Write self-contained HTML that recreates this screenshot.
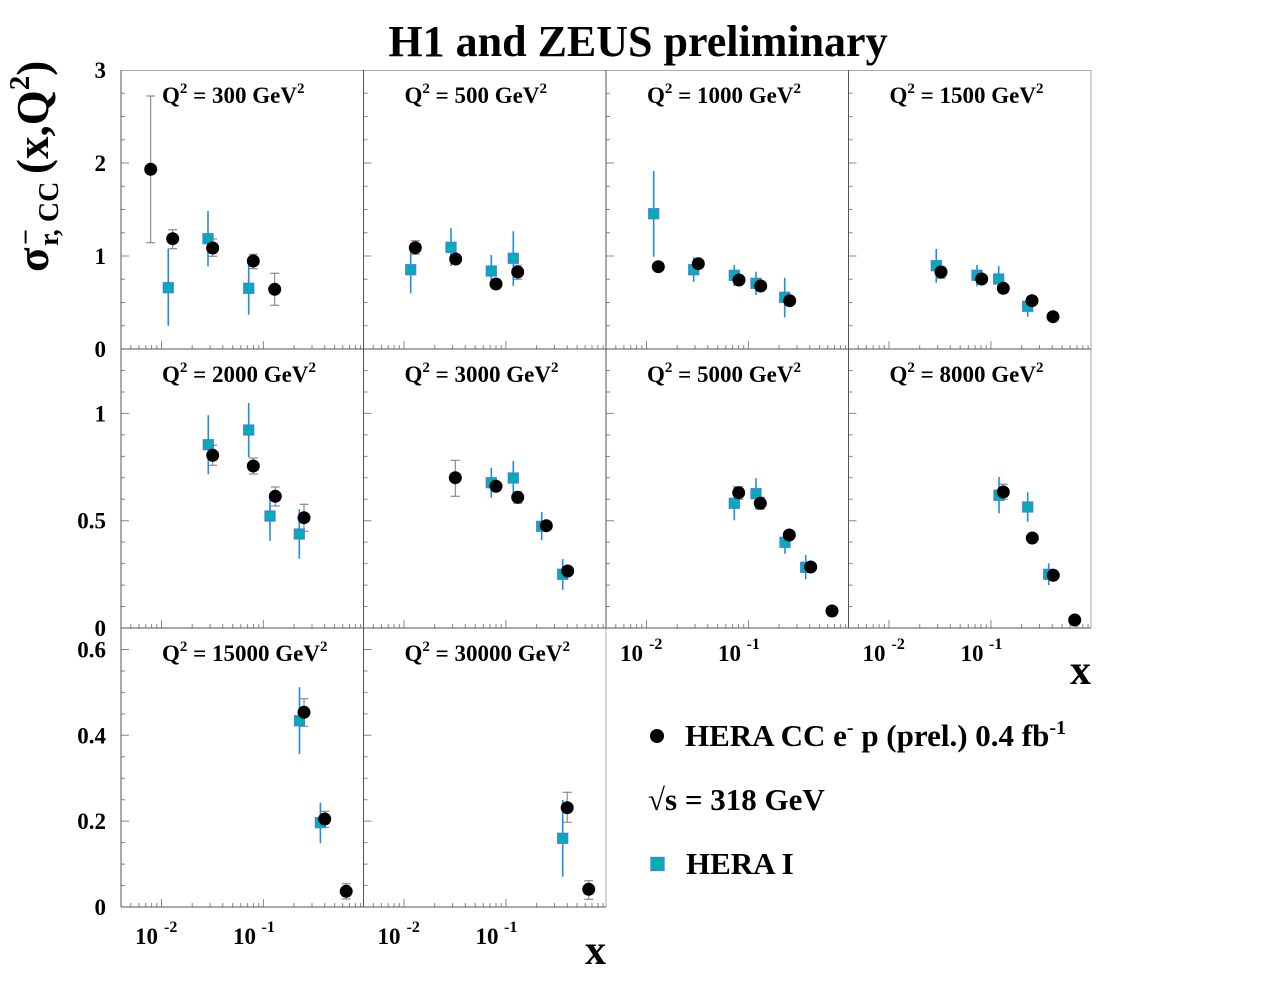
<!DOCTYPE html>
<html><head><meta charset="utf-8"><style>
html,body{margin:0;padding:0;background:#fff;}
svg{display:block;}
text{font-family:"Liberation Serif","DejaVu Serif",serif;font-weight:bold;fill:#000;}
</style></head><body>
<svg width="1276" height="992" viewBox="0 0 1276 992" xmlns="http://www.w3.org/2000/svg">
<rect width="1276" height="992" fill="#fff"/>
<defs>
<path id="xt" fill="none" stroke="#888" stroke-width="1" d="M40.5 0v-8M142.4 0v-8M9.8 0v-4M17.9 0v-4M24.7 0v-4M30.6 0v-4M35.8 0v-4M71.2 0v-4M89.1 0v-4M101.8 0v-4M111.7 0v-4M119.8 0v-4M126.6 0v-4M132.5 0v-4M137.7 0v-4M173.1 0v-4M191 0v-4M203.7 0v-4M213.6 0v-4M221.7 0v-4M228.5 0v-4M234.4 0v-4M239.6 0v-4"/>
<path id="yt1" fill="none" stroke="#888" stroke-width="1" d="M0 -93h8M0 -186h8M0 -23.25h4M0 -46.5h4M0 -69.75h4M0 -116.25h4M0 -139.5h4M0 -162.75h4M0 -209.25h4M0 -232.5h4M0 -255.75h4"/>
<path id="yt2" fill="none" stroke="#888" stroke-width="1" d="M0 -107.3h8M0 -214.6h8M0 -21.46h4M0 -42.92h4M0 -64.38h4M0 -85.84h4M0 -128.76h4M0 -150.22h4M0 -171.68h4M0 -193.14h4M0 -236.06h4M0 -257.52h4"/>
<path id="yt3" fill="none" stroke="#888" stroke-width="1" d="M0 -85.85h8M0 -171.7h8M0 -257.5h8M0 -21.46h4M0 -42.92h4M0 -64.38h4M0 -107.3h4M0 -128.76h4M0 -150.22h4M0 -193.14h4M0 -214.6h4M0 -236.06h4"/>
</defs>

<!-- Title -->
<text x="638" y="56" font-size="44" text-anchor="middle">H1 and ZEUS preliminary</text>

<!-- Y axis title -->
<g transform="translate(48,272) rotate(-90)">
<text x="0" y="0" font-size="45">σ</text>
<text x="27" y="-13" font-size="28">−</text>
<text x="26" y="10" font-size="28">r, CC</text>
<text x="98" y="0" font-size="45">(x,Q<tspan font-size="29" dy="-19">2</tspan><tspan dy="19">)</tspan></text>
</g>

<!-- ticks -->
<use href="#xt" x="121" y="349"/><use href="#xt" x="363.5" y="349"/><use href="#xt" x="606" y="349"/><use href="#xt" x="848.5" y="349"/>
<use href="#xt" x="121" y="628"/><use href="#xt" x="363.5" y="628"/><use href="#xt" x="606" y="628"/><use href="#xt" x="848.5" y="628"/>
<use href="#xt" x="121" y="907"/><use href="#xt" x="363.5" y="907"/>
<use href="#yt1" x="121" y="349"/><use href="#yt1" x="363.5" y="349"/><use href="#yt1" x="606" y="349"/><use href="#yt1" x="848.5" y="349"/>
<use href="#yt2" x="121" y="628"/><use href="#yt2" x="363.5" y="628"/><use href="#yt2" x="606" y="628"/><use href="#yt2" x="848.5" y="628"/>
<use href="#yt3" x="121" y="907"/><use href="#yt3" x="363.5" y="907"/>

<!-- frames -->
<g fill="none" stroke-width="1">
<path stroke="#aaa" d="M121 70.5H1091M1091 70V628M606 628V907"/>
<path stroke="#555" d="M121 349H1091M121 628H1091M121 907H606M121 70V907M363.5 70V907M606 70V628M848.5 70V628"/>
</g>

<!-- Y labels -->
<g font-size="23" text-anchor="end">
<text x="106" y="78">3</text><text x="106" y="171">2</text><text x="106" y="264">1</text><text x="106" y="357">0</text>
<text x="106" y="421.4">1</text><text x="106" y="528.7">0.5</text><text x="106" y="636">0</text>
<text x="106" y="657.5">0.6</text><text x="106" y="743.3">0.4</text><text x="106" y="829.2">0.2</text><text x="106" y="915">0</text>
</g>

<!-- X labels -->
<g font-size="23">
<text x="135" y="944">10</text><text x="164" y="932" font-size="16">-2</text>
<text x="233" y="944">10</text><text x="261.5" y="932" font-size="16">-1</text>
<text x="377.5" y="944">10</text><text x="406.5" y="932" font-size="16">-2</text>
<text x="475.5" y="944">10</text><text x="504" y="932" font-size="16">-1</text>
<text x="620" y="661">10</text><text x="649" y="649" font-size="16">-2</text>
<text x="718" y="661">10</text><text x="746.5" y="649" font-size="16">-1</text>
<text x="862.5" y="661">10</text><text x="891.5" y="649" font-size="16">-2</text>
<text x="960.5" y="661">10</text><text x="989" y="649" font-size="16">-1</text>
</g>
<text x="1091" y="684" font-size="42" text-anchor="end">x</text>
<text x="606" y="964" font-size="42" text-anchor="end">x</text>

<!-- Panel labels -->
<g font-size="23">
<text x="162" y="103">Q<tspan font-size="15" dy="-10">2</tspan><tspan dy="10"> = 300 GeV</tspan><tspan font-size="15" dy="-10">2</tspan></text>
<text x="404.5" y="103">Q<tspan font-size="15" dy="-10">2</tspan><tspan dy="10"> = 500 GeV</tspan><tspan font-size="15" dy="-10">2</tspan></text>
<text x="647" y="103">Q<tspan font-size="15" dy="-10">2</tspan><tspan dy="10"> = 1000 GeV</tspan><tspan font-size="15" dy="-10">2</tspan></text>
<text x="889.5" y="103">Q<tspan font-size="15" dy="-10">2</tspan><tspan dy="10"> = 1500 GeV</tspan><tspan font-size="15" dy="-10">2</tspan></text>
<text x="162" y="382">Q<tspan font-size="15" dy="-10">2</tspan><tspan dy="10"> = 2000 GeV</tspan><tspan font-size="15" dy="-10">2</tspan></text>
<text x="404.5" y="382">Q<tspan font-size="15" dy="-10">2</tspan><tspan dy="10"> = 3000 GeV</tspan><tspan font-size="15" dy="-10">2</tspan></text>
<text x="647" y="382">Q<tspan font-size="15" dy="-10">2</tspan><tspan dy="10"> = 5000 GeV</tspan><tspan font-size="15" dy="-10">2</tspan></text>
<text x="889.5" y="382">Q<tspan font-size="15" dy="-10">2</tspan><tspan dy="10"> = 8000 GeV</tspan><tspan font-size="15" dy="-10">2</tspan></text>
<text x="162" y="661">Q<tspan font-size="15" dy="-10">2</tspan><tspan dy="10"> = 15000 GeV</tspan><tspan font-size="15" dy="-10">2</tspan></text>
<text x="404.5" y="661">Q<tspan font-size="15" dy="-10">2</tspan><tspan dy="10"> = 30000 GeV</tspan><tspan font-size="15" dy="-10">2</tspan></text>
</g>

<!-- black error bars -->
<path fill="none" stroke="#777" stroke-width="1" d="
M150.7 96V242.7M146.2 96h9M146.2 242.7h9
M172.7 229.7V248.7M168.2 229.7h9M168.2 248.7h9
M212.7 239V256.3M208.2 239h9M208.2 256.3h9
M253.3 254.3V268.7M248.8 254.3h9M248.8 268.7h9
M274.7 273.3V305.3M270.2 273.3h9M270.2 305.3h9
M415.3 240.7V254.3M410.8 240.7h9M410.8 254.3h9
M455.7 255V263M517.7 265.3V279.3M513.2 265.3h9M513.2 279.3h9
M212.7 445.3V465.3M208.2 445.3h9M208.2 465.3h9
M253.3 458V474M248.8 458h9M248.8 474h9
M275.3 487V506M270.8 487h9M270.8 506h9
M304 504.3V531.3M299.5 504.3h9M299.5 531.3h9
M455.3 460.3V496.3M450.8 460.3h9M450.8 496.3h9
M517.7 491.7V503.3M513.2 491.7h9M513.2 503.3h9
M738.7 486.7V499.3M734.2 486.7h9M734.2 499.3h9
M760.3 497.3V509.3M755.8 497.3h9M755.8 509.3h9
M1003.3 484.3V499.3M998.8 484.3h9M998.8 499.3h9
M941 266.7V278.3M936.5 266.7h9M936.5 278.3h9
M304 698.7V726.3M299.5 698.7h9M299.5 726.3h9
M324.7 811.3V827.3M320.2 811.3h9M320.2 827.3h9
M346.2 883.7V899M341.7 883.7h9M341.7 899h9
M567.2 792.3V822.3M562.7 792.3h9M562.7 822.3h9
M588.7 880.7V899.3M584.2 880.7h9M584.2 899.3h9
"/>

<!-- blue error bars -->
<path fill="none" stroke="#1f8de0" stroke-width="1.6" d="
M168.3 249V325.7M208 211V266.3M248.7 261V314.7
M410.7 250V293.3M451 228.3V266M491.3 255V283.3M513.3 231.3V285.7
M653.7 171V256.7M693.7 257.3V281.7M734.3 265V286M756 271.7V295M784.7 277.7V317.3
M936.3 249V282.7M977 265V286.3M998.7 266.3V290M1027.7 296V316.7
M208.3 415.3V474.3M248.7 403V457.3M270 494.3V540.7M299.3 509.3V558.7
M491.3 467.7V497.7M513.3 461V496.7M541.7 512V540.3M562.7 559V589.7
M734.3 486V520.3M756 478.3V509.3M785 535V553.7M805.7 555V579.3
M999 477V513.3M1027.7 492.3V521.7M1048.7 563.3V585
M299.5 687.3V754M320.4 802.7V843.3
M562.7 800V876.7
"/>

<!-- cyan squares -->
<g fill="#00b0b0" stroke="#4a78f0" stroke-width="1.2">
<rect x="163.3" y="282.7" width="10" height="10"/><rect x="203" y="233.7" width="10" height="10"/><rect x="243.7" y="283.3" width="10" height="10"/>
<rect x="405.7" y="264.7" width="10" height="10"/><rect x="446" y="242.3" width="10" height="10"/><rect x="486.3" y="266" width="10" height="10"/><rect x="508.3" y="253.3" width="10" height="10"/>
<rect x="648.7" y="208.7" width="10" height="10"/><rect x="688.7" y="264.7" width="10" height="10"/><rect x="729.3" y="270.3" width="10" height="10"/><rect x="751" y="278.3" width="10" height="10"/><rect x="779.7" y="292.3" width="10" height="10"/>
<rect x="931.3" y="260.7" width="10" height="10"/><rect x="972" y="270.3" width="10" height="10"/><rect x="993.7" y="274" width="10" height="10"/><rect x="1022.7" y="301.3" width="10" height="10"/>
<rect x="203.3" y="439.7" width="10" height="10"/><rect x="243.7" y="425" width="10" height="10"/><rect x="265" y="511" width="10" height="10"/><rect x="294.3" y="529" width="10" height="10"/>
<rect x="486.3" y="477.7" width="10" height="10"/><rect x="508.3" y="473" width="10" height="10"/><rect x="536.7" y="521.3" width="10" height="10"/><rect x="557.7" y="569.3" width="10" height="10"/>
<rect x="729.3" y="498.3" width="10" height="10"/><rect x="751" y="488.7" width="10" height="10"/><rect x="780" y="537.3" width="10" height="10"/><rect x="800.7" y="562.3" width="10" height="10"/>
<rect x="994" y="490.3" width="10" height="10"/><rect x="1022.7" y="502" width="10" height="10"/><rect x="1043.7" y="569.3" width="10" height="10"/>
<rect x="294.5" y="715.7" width="10" height="10"/><rect x="315.4" y="817.7" width="10" height="10"/>
<rect x="557.7" y="833.3" width="10" height="10"/>
</g>

<!-- black circles -->
<g fill="#000">
<circle cx="150.7" cy="169.3" r="6.5"/><circle cx="172.7" cy="238.7" r="6.5"/><circle cx="212.7" cy="248" r="6.5"/><circle cx="253.3" cy="261" r="6.5"/><circle cx="274.7" cy="289.3" r="6.5"/>
<circle cx="415.3" cy="247.7" r="6.5"/><circle cx="455.7" cy="259" r="6.5"/><circle cx="496" cy="284" r="6.5"/><circle cx="517.7" cy="272" r="6.5"/>
<circle cx="658.3" cy="266.7" r="6.5"/><circle cx="698.3" cy="263.7" r="6.5"/><circle cx="739" cy="280" r="6.5"/><circle cx="760.7" cy="286" r="6.5"/><circle cx="789.7" cy="300.7" r="6.5"/>
<circle cx="941" cy="272" r="6.5"/><circle cx="981.7" cy="279" r="6.5"/><circle cx="1003.3" cy="288.3" r="6.5"/><circle cx="1032" cy="300.7" r="6.5"/><circle cx="1053" cy="316.7" r="6.5"/>
<circle cx="212.7" cy="455.3" r="6.5"/><circle cx="253.3" cy="466" r="6.5"/><circle cx="275.3" cy="496.3" r="6.5"/><circle cx="304" cy="517.7" r="6.5"/>
<circle cx="455.3" cy="477.7" r="6.5"/><circle cx="496" cy="486.3" r="6.5"/><circle cx="517.7" cy="497.3" r="6.5"/><circle cx="546.3" cy="525.7" r="6.5"/><circle cx="567.7" cy="571" r="6.5"/>
<circle cx="738.7" cy="492.7" r="6.5"/><circle cx="760.3" cy="503.3" r="6.5"/><circle cx="789.3" cy="535" r="6.5"/><circle cx="810.7" cy="567" r="6.5"/><circle cx="832" cy="611" r="6.5"/>
<circle cx="1003.3" cy="492" r="6.5"/><circle cx="1032.3" cy="538" r="6.5"/><circle cx="1053.3" cy="575.3" r="6.5"/><circle cx="1074.7" cy="620" r="6.5"/>
<circle cx="304" cy="712.3" r="6.5"/><circle cx="324.7" cy="819" r="6.5"/><circle cx="346.2" cy="891.3" r="6.5"/>
<circle cx="567.2" cy="807.7" r="6.5"/><circle cx="588.7" cy="889.3" r="6.5"/>
</g>

<!-- Legend -->
<circle cx="657" cy="736" r="7" fill="#000"/>
<text x="685" y="746" font-size="31">HERA CC e<tspan font-size="20" dy="-12">-</tspan><tspan dy="12"> p (prel.) 0.4 fb</tspan><tspan font-size="20" dy="-12">-1</tspan></text>
<text x="648" y="810" font-size="31">√s = 318 GeV</text>
<rect x="651" y="857.5" width="13" height="13" fill="#00b0b0" stroke="#4a78f0" stroke-width="1.3"/>
<text x="686" y="874" font-size="31">HERA I</text>
</svg>
</body></html>
